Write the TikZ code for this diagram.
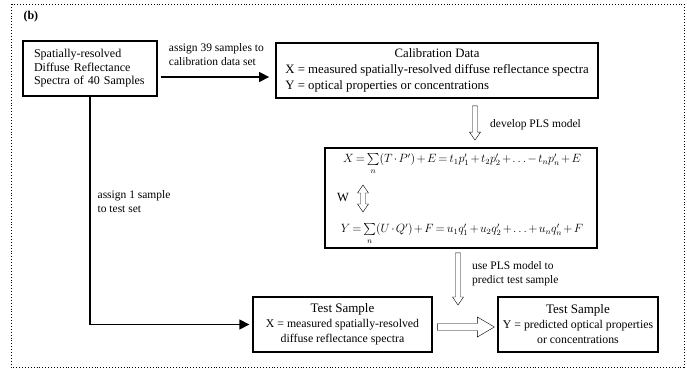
\documentclass[tikz,border=0pt]{standalone}
\usepackage{amsmath}
\usepackage{fontspec}
\setmainfont{Liberation Serif}
\usetikzlibrary{arrows.meta,calc}
\tikzset{every edge/.style={draw}}

\begin{document}
\begin{tikzpicture}[x=1pt, y=-1pt,
    box/.style={draw, line width=1.3pt, inner sep=0pt, minimum height=55},
    bigbox/.style={box, line width=1.8pt},
    flow/.style={line width=1.3pt, -{Triangle[length=10pt, width=10pt]}},
    hdown/.style={line width=0.6pt, to path={($(\tikztostart)+(-2.5,0)$) -- ($(\tikztotarget)+(-2.5,-8)$) -- ($(\tikztotarget)+(-5.5,-8)$)
        -- (\tikztotarget) -- ($(\tikztotarget)+(5.5,-8)$) -- ($(\tikztotarget)+(2.5,-8)$) -- ($(\tikztostart)+(2.5,0)$) -- cycle}},
    hboth/.style={line width=0.6pt, to path={(\tikztostart) -- ($(\tikztostart)+(5.5,8)$) -- ($(\tikztostart)+(2.5,8)$)
        -- ($(\tikztotarget)+(2.5,-8)$) -- ($(\tikztotarget)+(5.5,-8)$) -- (\tikztotarget) -- ($(\tikztotarget)+(-5.5,-8)$)
        -- ($(\tikztotarget)+(-2.5,-8)$) -- ($(\tikztostart)+(-2.5,8)$) -- ($(\tikztostart)+(-5.5,8)$) -- cycle}},
    hright/.style={line width=0.6pt, to path={($(\tikztostart)+(0,-3.5)$) -- ($(\tikztotarget)+(-17,-3.5)$) -- ($(\tikztotarget)+(-17,-10)$)
        -- (\tikztotarget) -- ($(\tikztotarget)+(-17,10)$) -- ($(\tikztotarget)+(-17,3.5)$) -- ($(\tikztostart)+(0,3.5)$) -- cycle}},
    lbl/.style={font=\fontsize{11.5}{14}\selectfont, align=left, inner sep=0pt},
    eq/.style={font=\fontsize{12}{14}\selectfont, inner sep=0pt}]
    \useasboundingbox (0,0) rectangle (687,377);
    \draw[dotted, line width=0.9pt] (11,4) rectangle (684,367);
    \node[anchor=west, font=\bfseries\fontsize{12}{14}\selectfont] at (20,17) (tag) {(b)};

    \node[box, minimum width=134, text width=112, align=left, font=\fontsize{12}{13.5}\selectfont] at (90,68.5) (src)
        {Spatially-resolved\\Diffuse Reflectance\\Spectra of 40 Samples};
    \node[bigbox, minimum width=322, font=\fontsize{12.8}{16}\selectfont] at (437,70.5) (calib)
        {\begin{tabular}{@{}l@{}}
         \multicolumn{1}{@{}c@{}}{Calibration Data}\\
         X = measured spatially-resolved diffuse reflectance spectra\\
         Y = optical properties or concentrations
         \end{tabular}};
    \node[bigbox, minimum width=272, minimum height=100] at (461,198) (pls) {};
    \node[eq] at (462,164) (eqX) {$\medmuskip=2mu \thickmuskip=3mu X=\sum\limits_n (T\cdot P')+E = t_1p_1'+t_2p_2'+\ldots-t_np_n'+E$};
    \node[eq] at (462,234) (eqY) {$\medmuskip=2mu \thickmuskip=3mu Y=\sum\limits_n (U\cdot Q')+F = u_1q_1'+u_2q_2'+\ldots+u_nq_n'+F$};
    \node[font=\fontsize{12.5}{14}\selectfont, inner sep=0pt] at (343,198) (w) {W};
    \node[box, minimum width=179, align=center, font=\fontsize{11.8}{15}\selectfont] at (342.5,324.5) (test)
        {{\fontsize{13}{15}\selectfont Test Sample}\\X = measured spatially-resolved\\diffuse reflectance spectra};
    \node[box, minimum width=160, align=center, font=\fontsize{11.8}{15}\selectfont] at (578,324.5) (result)
        {{\fontsize{13}{15}\selectfont Test Sample}\\Y = predicted optical properties\\or concentrations};

    \coordinate (a1) at (0,77);
    \coordinate (dv) at (475,0);
    \coordinate (d1) at ($(calib.south -| dv)+(0,7)$);
    \coordinate (d2) at ($(pls.north -| dv)+(0,-7)$);
    \coordinate (wtop) at (363,185);
    \coordinate (wbot) at (363,212);
    \coordinate (tip) at (458,305);
    \coordinate (u1) at ($(pls.south -| tip)+(0,4)$);
    \coordinate (h1) at ($(test.east)+(5,2.5)$);
    \coordinate (h2) at ($(result.west)+(-3,2.5)$);

    \draw (src.east |- a1) edge[flow, shorten <=3pt, shorten >=6pt] node[above=11pt, lbl] {assign 39 samples to\\calibration data set} (calib.west |- a1);
    \draw[flow, shorten >=3pt] (src.south) |- node[pos=0.23, right=7pt, lbl] {assign 1 sample\\to test set} (test.west);

    \draw (d1) to[hdown] (d2);
    \node[lbl, anchor=west] at (490,125) (dev) {develop PLS model};
    \draw (wtop) to[hboth] (wbot);
    \draw (u1) to[hdown] (tip);
    \node[lbl, anchor=west] at (472,274) (use) {use PLS model to\\predict test sample};
    \draw (h1) to[hright] (h2);
\end{tikzpicture}
\end{document}
